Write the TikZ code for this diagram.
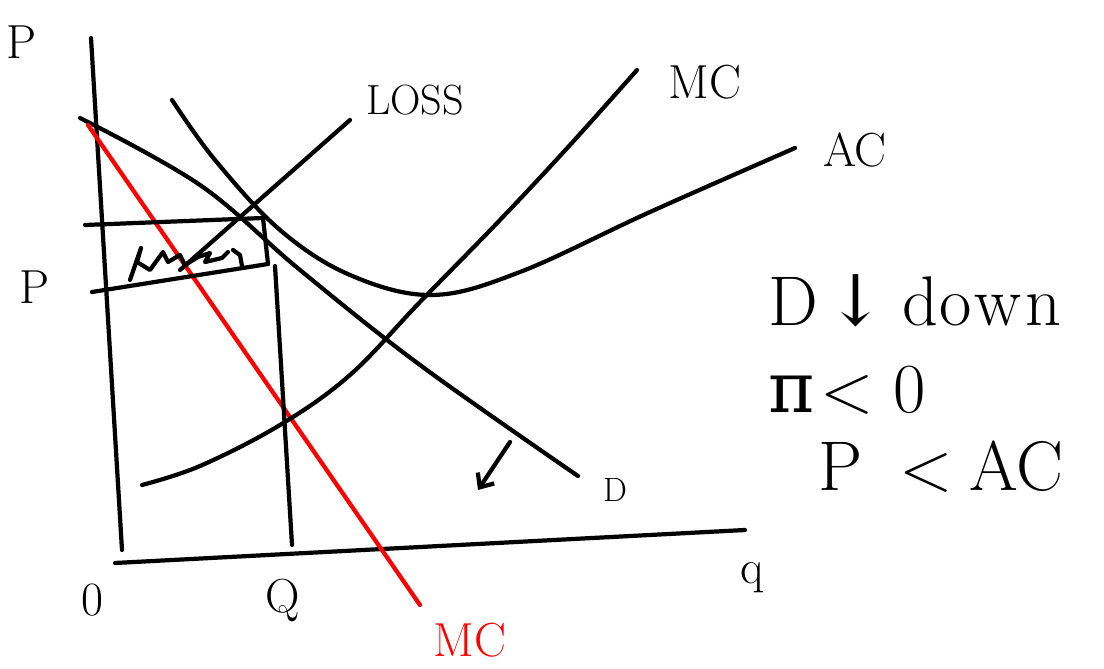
\documentclass[tikz,border=0pt]{standalone}
\usepackage{fontspec}
\newfontfamily\symfont{DejaVu Serif}
\usepackage{tikz}
\usetikzlibrary{arrows.meta}
\begin{document}
\begin{tikzpicture}[
    x=0.025cm, y=-0.025cm,
    % === STYLES ===
    pen/.style={line width=3pt, line cap=round, line join=round, black},
    redpen/.style={pen, draw=red},
    hand/.style={font=\fontsize{#1}{#1}\selectfont, inner sep=0pt},
    hand/.default=30
]
\useasboundingbox (0,0) rectangle (1104,669);

% === AXES ===
\coordinate (ytop) at (91,38);
\coordinate (origin) at (122,550);
\coordinate (xleft) at (115,563);
\coordinate (xright) at (745,530);
\draw[pen] (ytop) -- (origin);
\draw[pen] (xleft) -- (xright);

% === CURVES ===
% Demand
\draw[pen] plot[smooth, tension=0.6] coordinates
    {(80,118) (200,185) (300,270) (420,365) (578,476)};
% Red line
\draw[redpen] (88,125) -- (420,605);
% AC
\draw[pen] plot[smooth, tension=0.6] coordinates
    {(172,100) (215,160) (280,230) (350,275) (432,295) (520,272) (650,212) (795,148)};
% MC
\draw[pen] plot[smooth, tension=0.6] coordinates
    {(142,485) (200,466) (280,425) (350,375) (420,302) (500,220) (570,145) (637,70)};

% === LOSS BOX ===
\draw[pen] (85,225) -- (263,218) -- (268,264);
\draw[pen] (92,292) -- (268,264);
\draw[pen] (275,266) -- (292,545);
\draw[pen] (130,280) -- (141,248) -- (137,262) -- (150,270) -- (163,252) -- (168,262)
    -- (180,255) -- (185,265) -- (198,257) -- (210,253) -- (205,262) -- (222,258) -- (228,252);
\draw[pen] (233,250) -- (240,255) -- (242,266);
% Pointer to loss
\draw[pen] (180,270) -- (350,120);

% Shift arrow
\draw[pen, -{Straight Barb[length=8pt, width=14pt]}] (510,442) -- (478,490);

% === LABELS ===
\node[hand=34] (plab) at (22,42) {P};
\node[hand=34] (pprice) at (35,287) {P};
\node[hand=34] (olab) at (92,600) {0};
\node[hand=34] (qlab) at (283,600) {Q};
\node[hand=34] (qaxis) at (752,578) {q};
\node[hand=34] (mclab) at (705,82) {MC};
\node[hand=34] (aclab) at (855,150) {AC};
\node[hand=30] (losslab) at (415,100) {LOSS};
\node[hand=24] (dlab) at (615,490) {D};
\node[hand=34, red] (mrlab) at (470,640) {MC};

% === NOTES ===
\node[hand=50, anchor=base west] (note1) at (768,325)
    {D\hspace{6pt}{\symfont ↓}\hspace{12pt}d\hspace{1pt}o\hspace{2pt}w\hspace{3pt}n};
\node[hand=50, anchor=base west] (note2) at (768,412)
    {{\symfont π}\hspace{4pt}<\hspace{14pt}0};
\node[hand=50, anchor=base west] (note3) at (818,490)
    {P\hspace{26pt}<\hspace{12pt}AC};
\end{tikzpicture}
\end{document}
